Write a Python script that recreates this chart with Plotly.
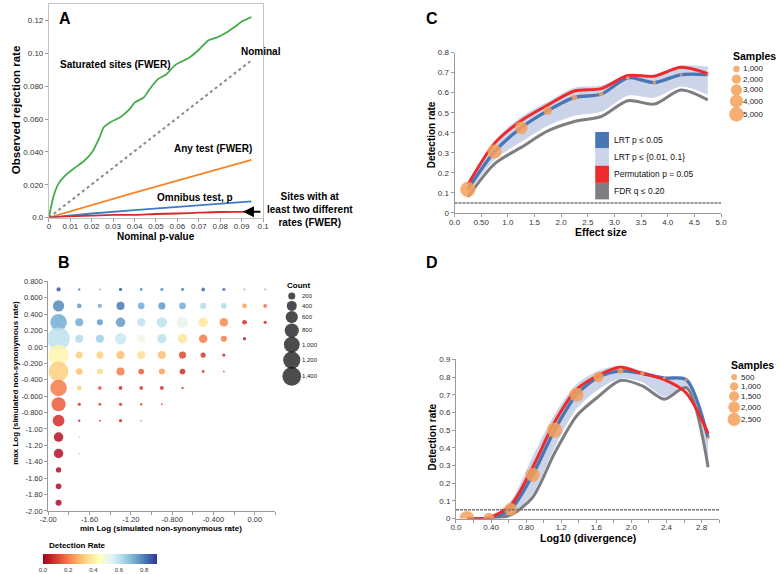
import plotly.graph_objects as go

W, H = 781, 574


def px(x):
    return x / W


def py(y):
    return 1 - y / H


FONT = "Liberation Sans, Arial, Helvetica, sans-serif"

# ---------------- Panel A data ----------------
a_sat_x = [0, 0.002, 0.0043, 0.0073, 0.0119, 0.0165, 0.0203, 0.0234, 0.0257, 0.0287, 0.0333,
           0.0378, 0.0401, 0.0443, 0.0470, 0.0508, 0.0547, 0.0592, 0.0653, 0.0699, 0.0745,
           0.0783, 0.0821, 0.0867, 0.0905, 0.0946]
a_sat_y = [0, 0.0122, 0.0202, 0.0252, 0.0301, 0.0346, 0.0401, 0.0481, 0.0551, 0.0581, 0.0611,
           0.0661, 0.0701, 0.0731, 0.0781, 0.0841, 0.0871, 0.0931, 0.0971, 0.1020, 0.1080,
           0.1095, 0.1120, 0.1160, 0.1196, 0.1220]
a_nom_x = [0, 0.0946]
a_nom_y = [0, 0.0957]
a_any_x = [0, 0.02, 0.04, 0.06, 0.08, 0.0946]
a_any_y = [0, 0.0077, 0.0152, 0.0225, 0.0297, 0.0352]
a_omni_x = [0, 0.02, 0.04, 0.06, 0.08, 0.0946]
a_omni_y = [0, 0.0025, 0.0045, 0.0066, 0.0085, 0.0099]
a_two_x = [0, 0.01, 0.02, 0.03, 0.04, 0.05, 0.06, 0.07, 0.08, 0.09, 0.0946]
a_two_y = [0, 0.0008, 0.0012, 0.0016, 0.0017, 0.0022, 0.0025, 0.0030, 0.0034, 0.0035, 0.0036]
a_xticks = [0, 0.01, 0.02, 0.03, 0.04, 0.05, 0.06, 0.07, 0.08, 0.09, 0.1]
a_xtext = ["0", "0.01", "0.02", "0.03", "0.04", "0.05", "0.06", "0.07", "0.08", "0.09", "0.1"]
a_yticks = [0, 0.02, 0.04, 0.06, 0.08, 0.10, 0.12]
a_ytext = ["0.0", "0.020", "0.040", "0.060", "0.080", "0.10", "0.12"]

# ---------------- Panel B data ----------------
b_cols = [-1.9, -1.7, -1.5, -1.3, -1.1, -0.9, -0.7, -0.5, -0.3, -0.1, 0.1]
b_rows = [0.7, 0.5, 0.3, 0.1, -0.1, -0.3, -0.5, -0.7, -0.9, -1.1, -1.3, -1.5, -1.7, -1.9]
b_counts = [
    [72, 23, 23, 42, 32, 42, 42, 58, 42, 23, 23],
    [512, 87, 72, 260, 177, 200, 177, 148, 128, 87, 58],
    [1095, 260, 148, 359, 260, 426, 512, 359, 288, 87, 42],
    [2048, 260, 260, 512, 260, 359, 359, 288, 148, 42],
    [1729, 200, 200, 260, 260, 260, 200, 110, 42],
    [1568, 177, 128, 260, 128, 148, 128, 32, 14],
    [1095, 87, 58, 58, 58, 58, 23],
    [800, 42, 32, 42, 23, 14],
    [551, 23, 14, 42, 8],
    [359, 4],
    [359, 4],
    [110],
    [128],
    [148],
]
b_rates = [
    [0.85, 0.78, 0.65, 0.85, 0.78, 0.75, 0.78, 0.82, 0.80, 0.65, 0.65],
    [0.78, 0.75, 0.72, 0.80, 0.72, 0.75, 0.72, 0.62, 0.62, 0.25, 0.18],
    [0.72, 0.72, 0.75, 0.75, 0.60, 0.60, 0.52, 0.38, 0.22, 0.08, 0.08],
    [0.60, 0.62, 0.65, 0.58, 0.50, 0.60, 0.38, 0.20, 0.20, 0.05],
    [0.42, 0.33, 0.33, 0.30, 0.36, 0.30, 0.12, 0.10, 0.08],
    [0.33, 0.30, 0.35, 0.20, 0.15, 0.25, 0.08, 0.10, 0.15],
    [0.20, 0.33, 0.15, 0.08, 0.10, 0.08, 0.12],
    [0.15, 0.10, 0.10, 0.10, 0.12, 0.15],
    [0.08, 0.08, 0.08, 0.08, 0.15],
    [0.03, 0.15],
    [0.03, 0.15],
    [0.02],
    [0.02],
    [0.02],
]
b_xticks = [-2.0, -1.8, -1.6, -1.4, -1.2, -1.0, -0.8, -0.6, -0.4, -0.2, 0.0, 0.2]
b_xtext = ["-2.00", "", "-1.60", "", "-1.20", "", "-0.800", "", "-0.400", "", "0.00", ""]
b_yticks = [0.8, 0.6, 0.4, 0.2, 0.0, -0.2, -0.4, -0.6, -0.8, -1.0, -1.2, -1.4, -1.6, -1.8, -2.0]
b_ytext = ["0.800", "0.600", "0.400", "0.200", "0.00", "-0.200", "-0.400", "-0.600", "-0.800",
           "-1.00", "-1.20", "-1.40", "-1.60", "-1.80", "-2.00"]
b_legend_counts = [200, 400, 600, 800, 1000, 1200, 1400]
b_legend_text = ["200", "400", "600", "800", "1,000", "1,200", "1,400"]
rdylbu = ["#a50026", "#d73027", "#f46d43", "#fdae61", "#fee090", "#ffffbf",
          "#e0f3f8", "#abd9e9", "#74add1", "#4575b4", "#313695"]

# ---------------- Panel C data ----------------
c_x = [0.25, 0.75, 1.25, 1.75, 2.25, 2.75, 3.25, 3.75, 4.25, 4.75]
c_lrt = [0.118, 0.306, 0.425, 0.51, 0.576, 0.592, 0.674, 0.65, 0.69, 0.69]
c_perm = [0.142, 0.347, 0.46, 0.538, 0.608, 0.62, 0.685, 0.682, 0.726, 0.695]
c_fdr = [0.08, 0.245, 0.327, 0.409, 0.456, 0.481, 0.56, 0.543, 0.613, 0.564]
c_band_hi = [0.15, 0.36, 0.48, 0.555, 0.625, 0.635, 0.69, 0.69, 0.735, 0.73]
c_band_lo = [0.095, 0.265, 0.355, 0.435, 0.485, 0.505, 0.585, 0.575, 0.63, 0.59]
c_samples = [5500, 4700, 3800, 1700, 750, 520, 340, 250, 190, 130]
c_xticks = [0, 0.5, 1, 1.5, 2, 2.5, 3, 3.5, 4, 4.5, 5]
c_xtext = ["0.0", "0.50", "1.0", "1.5", "2.0", "2.5", "3.0", "3.5", "4.0", "4.5", "5.0"]
c_yticks = [0, 0.1, 0.2, 0.3, 0.4, 0.5, 0.6, 0.7, 0.8]
c_ytext = ["0", "0.1", "0.2", "0.3", "0.4", "0.5", "0.6", "0.7", "0.8"]
c_legend_samples = [1000, 2000, 3000, 4000, 5000]
c_legend_text = ["1,000", "2,000", "3,000", "4,000", "5,000"]
method_names = ["LRT p ≤ 0.05", "LRT p ≤ {0.01, 0.1}", "Permutation p = 0.05", "FDR q ≤ 0.20"]
baseline_rate = 0.05

# ---------------- Panel D data ----------------
d_x = [0.125, 0.375, 0.625, 0.875, 1.125, 1.375, 1.625, 1.875, 2.125, 2.375, 2.625, 2.875]
d_lrt = [0, 0, 0.052, 0.247, 0.50, 0.70, 0.80, 0.835, 0.82, 0.794, 0.785, 0.455]
d_perm = [0, 0.005, 0.075, 0.29, 0.545, 0.73, 0.81, 0.855, 0.82, 0.785, 0.71, 0.48]
d_fdr = [0, 0, 0.02, 0.12, 0.37, 0.58, 0.69, 0.78, 0.75, 0.675, 0.74, 0.29]
d_band_hi = [0, 0.012, 0.10, 0.35, 0.59, 0.76, 0.835, 0.865, 0.835, 0.80, 0.795, 0.48]
d_band_lo = [0, 0, 0.025, 0.14, 0.40, 0.62, 0.73, 0.79, 0.77, 0.69, 0.745, 0.30]
d_samples = [3200, 1850, 2350, 2900, 3300, 2900, 1550, 460, 260, 120, 120, 120]
d_xticks = [0, 0.2, 0.4, 0.6, 0.8, 1.0, 1.2, 1.4, 1.6, 1.8, 2.0, 2.2, 2.4, 2.6, 2.8, 3.0]
d_xtext = ["0.0", "", "0.40", "", "0.80", "", "1.2", "", "1.6", "", "2.0", "", "2.4", "", "2.8", ""]
d_yticks = [0, 0.1, 0.2, 0.3, 0.4, 0.5, 0.6, 0.7, 0.8, 0.9]
d_ytext = ["0", "0.1", "0.2", "0.3", "0.4", "0.5", "0.6", "0.7", "0.8", "0.9"]
d_legend_samples = [500, 1000, 1500, 2000, 2500]
d_legend_text = ["500", "1,000", "1,500", "2,000", "2,500"]

# ---------------- styles ----------------
BLUE = "#4a77b4"
BAND = "#cbd4e8"
RED = "#ee2a2a"
GRAY = "#7c7e82"
ORANGE = "#f5a05a"

fig = go.Figure()

# Panel A
fig.add_trace(go.Scatter(x=a_nom_x, y=a_nom_y, mode="lines", xaxis="x", yaxis="y",
                         line=dict(color="#8a8a8a", width=2, dash="dot")))
fig.add_trace(go.Scatter(x=a_sat_x, y=a_sat_y, mode="lines", xaxis="x", yaxis="y",
                         line=dict(color="#44ad4a", width=1.8, shape="spline", smoothing=0.6)))
fig.add_trace(go.Scatter(x=a_any_x, y=a_any_y, mode="lines", xaxis="x", yaxis="y",
                         line=dict(color="#f7862a", width=1.8)))
fig.add_trace(go.Scatter(x=a_omni_x, y=a_omni_y, mode="lines", xaxis="x", yaxis="y",
                         line=dict(color="#3d7cc4", width=1.8)))
fig.add_trace(go.Scatter(x=a_two_x, y=a_two_y, mode="lines", xaxis="x", yaxis="y",
                         line=dict(color="#d62a2a", width=1.8, shape="spline")))

# Panel B
bx, by, bc, br = [], [], [], []
for yi, row_c, row_r in zip(b_rows, b_counts, b_rates):
    for xi, c, r in zip(b_cols, row_c, row_r):
        bx.append(xi)
        by.append(yi)
        bc.append(c)
        br.append(r)
n = len(rdylbu)
cscale = [[i / (n - 1), col] for i, col in enumerate(rdylbu)]
fig.add_trace(go.Scatter(
    x=bx, y=by, mode="markers", xaxis="x2", yaxis="y2",
    marker=dict(size=bc, sizemode="area", sizeref=8, color=br, colorscale=cscale,
                cmin=0, cmax=0.9, opacity=0.85, line=dict(width=0),
                colorbar=dict(orientation="h", x=px(34.5), xanchor="left",
                              y=py(575.5), yanchor="bottom", len=116 / W, lenmode="fraction",
                              thickness=10, thicknessmode="pixels", outlinewidth=0,
                              xpad=0, ypad=0, ticks="",
                              tickvals=[0, 0.2, 0.4, 0.6, 0.8],
                              ticktext=["0.0", "0.2", "0.4", "0.6", "0.8"],
                              tickfont=dict(size=6, family=FONT, color="#333")))))


def add_rate_panel(xs, band_lo, band_hi, fdr, lrt, perm, samples, sref, xa, ya):
    fig.add_trace(go.Scatter(x=xs, y=band_lo, mode="lines", xaxis=xa, yaxis=ya,
                             line=dict(width=0, shape="spline", smoothing=0.8)))
    fig.add_trace(go.Scatter(x=xs, y=band_hi, mode="lines", xaxis=xa, yaxis=ya,
                             fill="tonexty", fillcolor=BAND,
                             line=dict(width=0, shape="spline", smoothing=0.8)))
    fig.add_trace(go.Scatter(x=xs, y=fdr, mode="lines", xaxis=xa, yaxis=ya,
                             line=dict(color=GRAY, width=3, shape="spline", smoothing=0.8)))
    fig.add_trace(go.Scatter(x=xs, y=lrt, mode="lines", xaxis=xa, yaxis=ya,
                             line=dict(color=BLUE, width=3.3, shape="spline", smoothing=0.8)))
    fig.add_trace(go.Scatter(x=xs, y=perm, mode="lines", xaxis=xa, yaxis=ya,
                             line=dict(color=RED, width=3, shape="spline", smoothing=0.8)))
    fig.add_trace(go.Scatter(x=xs, y=lrt, mode="markers", xaxis=xa, yaxis=ya,
                             marker=dict(size=samples, sizemode="area", sizeref=sref,
                                         color=ORANGE, opacity=0.85, line=dict(width=0))))


add_rate_panel(c_x, c_band_lo, c_band_hi, c_fdr, c_lrt, c_perm, c_samples, 47, "x3", "y3")
add_rate_panel(d_x, d_band_lo, d_band_hi, d_fdr, d_lrt, d_perm, d_samples, 29, "x4", "y4")

# size legends on a pixel-coordinate overlay axis
b_leg_y = [296.7, 306.7, 318, 331.7, 346, 361.7, 378.3]
fig.add_trace(go.Scatter(x=[288.3] * len(b_legend_counts), y=b_leg_y, mode="markers",
                         xaxis="x5", yaxis="y5",
                         marker=dict(size=b_legend_counts, sizemode="area", sizeref=8,
                                     color="#000", line=dict(width=0))))
c_leg_y = [66, 76.3, 87.3, 98.7, 112]
fig.add_trace(go.Scatter(x=[741.7] * len(c_legend_samples), y=c_leg_y, mode="markers",
                         xaxis="x5", yaxis="y5",
                         marker=dict(size=c_legend_samples, sizemode="area", sizeref=47,
                                     color=ORANGE, opacity=0.85, line=dict(width=0))))
d_leg_y = [379, 388.5, 398.5, 409.5, 422]
fig.add_trace(go.Scatter(x=[739.3] * len(d_legend_samples), y=d_leg_y, mode="markers",
                         xaxis="x5", yaxis="y5",
                         marker=dict(size=d_legend_samples, sizemode="area", sizeref=29,
                                     color=ORANGE, opacity=0.85, line=dict(width=0))))


def axis(dom, rng, tv, tt, anchor, mirror=False, linecolor="#9a9a9a", fs=8, sx=False):
    d = dict(domain=dom, range=rng, tickvals=tv, ticktext=tt, anchor=anchor,
             showline=True, mirror=mirror, linecolor=linecolor, linewidth=1,
             ticks="outside", ticklen=3, tickcolor="#9a9a9a", tickwidth=1,
             tickfont=dict(size=fs, family=FONT, color="#333"),
             showgrid=False, zeroline=False, fixedrange=True)
    if sx:
        d["ticklabelstandoff"] = -2
    return d


layout = dict(
    width=W, height=H, margin=dict(l=0, r=0, t=0, b=0), showlegend=False,
    plot_bgcolor="rgba(0,0,0,0)", paper_bgcolor="#ffffff",
    font=dict(family=FONT, color="#000"),
    xaxis=axis([px(40.7), px(259)], [0, 0.1], a_xticks, a_xtext, "y", True, "#c4c4c4", sx=True),
    yaxis=axis([py(217), py(0)], [0, 0.13], a_yticks, a_ytext, "x", True, "#c4c4c4"),
    xaxis2=axis([px(40), px(271.7)], [-2.0, 0.2], b_xticks, b_xtext, "y2", fs=7.5, sx=True),
    yaxis2=axis([py(515), py(281.7)], [-2.0, 0.8], b_yticks, b_ytext, "x2", fs=7.5),
    xaxis3=axis([px(454.3), px(726)], [0, 5], c_xticks, c_xtext, "y3", sx=True),
    yaxis3=axis([py(212.3), py(49.3)], [0, 0.8], c_yticks, c_ytext, "x3"),
    xaxis4=axis([px(455.7), px(724)], [0, 3.0], d_xticks, d_xtext, "y4", sx=True),
    yaxis4=axis([py(522.7), py(361)], [0, 0.9], d_yticks, d_ytext, "x4"),
    xaxis5=dict(domain=[0, 1], range=[0, W], visible=False, anchor="y5", fixedrange=True),
    yaxis5=dict(domain=[0, 1], range=[H, 0], visible=False, anchor="x5", fixedrange=True),
)
fig.update_layout(**layout)

# reference lines at baseline rate
for xa, ya in (("x3", "y3"), ("x4", "y4")):
    fig.add_shape(type="line", xref=f"{xa} domain", yref=ya, x0=0, x1=1,
                  y0=baseline_rate, y1=baseline_rate,
                  line=dict(color="#777", width=1.5, dash="3px,1px"))

# C legend swatches
sw_cols = [BLUE, BAND, RED, GRAY]
sw_edges = [130, 146.7, 164.3, 181.7, 198.5]
for i, col in enumerate(sw_cols):
    fig.add_shape(type="rect", xref="paper", yref="paper", x0=px(597.7), x1=px(611.7),
                  y0=py(sw_edges[i + 1]), y1=py(sw_edges[i]), fillcolor=col,
                  line=dict(width=0), layer="above")

ann = []


def txt(x, y, s, size, bold=False, xa="center", ya="middle", angle=0, color="#000"):
    ann.append(dict(x=px(x), y=py(y), xref="paper", yref="paper",
                    text=f"<b>{s}</b>" if bold else s, showarrow=False,
                    xanchor=xa, yanchor=ya, textangle=angle,
                    font=dict(size=size, family=FONT, color=color)))


# panel letters
txt(57, 15, "A", 16, True)
txt(56, 263, "B", 16, True)
txt(431.7, 15, "C", 16, True)
txt(431.7, 263, "D", 16, True)

# Panel A labels
txt(108.5, 61, "Saturated sites (FWER)", 10, True)
txt(235, 48, "Nominal", 10, True, xa="left")
txt(208, 147, "Any test (FWER)", 10, True)
txt(190, 197, "Omnibus test, p", 10, True)
txt(261, 208.5, "Sites with at<br>least two different<br>rates (FWER)", 10, True, xa="left")
ann.append(dict(x=px(238.5), y=py(211), xref="paper", yref="paper", ax=19, ay=0,
                text="", showarrow=True, arrowhead=2, arrowsize=1.1, arrowwidth=2,
                arrowcolor="#000"))
txt(150, 236, "Nominal p-value", 10, True)
txt(7, 108, "Observed rejection rate", 11.5, True, angle=-90)

# Panel B labels
txt(155, 533, "min Log (simulated non-synonymous rate)", 8, True)
txt(7, 385, "max Log (simulated non-synonymous rate)", 8, True, angle=-90)
txt(281.5, 286, "Count", 8, True, xa="left")
for yv, t in zip(b_leg_y, b_legend_text):
    txt(297, yv, t, 6, xa="left", color="#222")
txt(39, 550, "Detection Rate", 8, True, xa="left")

# Panel C labels
txt(604, 232, "Effect size", 10.5, True)
txt(430.7, 133, "Detection rate", 10, True, angle=-90)
for i, name in enumerate(method_names):
    txt(615, (sw_edges[i] + sw_edges[i + 1]) / 2, name, 8.5, xa="left", color="#111")
txt(736.5, 53, "Samples", 10.5, True, xa="left")
for yv, t in zip(c_leg_y, c_legend_text):
    txt(746, yv, t, 8, xa="left", color="#222")

# Panel D labels
txt(590.5, 542, "Log10 (divergence)", 10.5, True)
txt(431.7, 440, "Detection rate", 10, True, angle=-90)
txt(734.5, 367, "Samples", 10.5, True, xa="left")
for yv, t in zip(d_leg_y, d_legend_text):
    txt(744, yv, t, 8, xa="left", color="#222")

fig.update_layout(annotations=ann)

fig.write_html("out.html", include_plotlyjs=True, config={"displayModeBar": False},
               post_script="document.body.style.margin='0px';")
